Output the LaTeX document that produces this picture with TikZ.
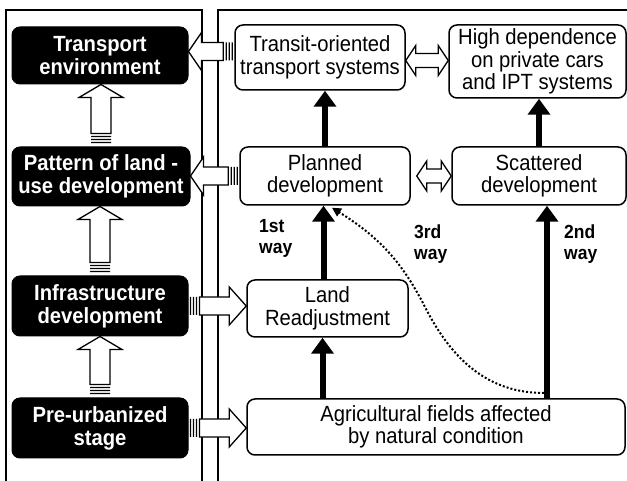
\documentclass[tikz,border=0pt]{standalone}
\usepackage{fontspec}
\setmainfont{Liberation Sans}[FakeStretch=0.92]
\usetikzlibrary{arrows.meta,calc}

% hollow block arrows with a striped tail
\newcommand{\hollowup}[2]{%
  \draw[hollow] let \p1=(#1), \p2=(#2) in
    (\x1-10pt,\y1+13pt) -- (\x1-10pt,\y2-13pt) -- (\x1-22pt,\y2-13pt) -- (\x1,\y2)
    -- (\x1+22pt,\y2-13pt) -- (\x1+10pt,\y2-13pt) -- (\x1+10pt,\y1+13pt) -- cycle
    (\x1-10pt,\y1+10pt) -- (\x1+10pt,\y1+10pt)
    (\x1-10pt,\y1+7pt) -- (\x1+10pt,\y1+7pt)
    (\x1-10pt,\y1+4pt) -- (\x1+10pt,\y1+4pt);}
\newcommand{\hollowleft}[2]{%
  \draw[hollow] let \p1=(#1), \p2=(#2) in
    (\x1-11pt,\y1-9pt) -- (\x2+13pt,\y1-9pt) -- (\x2+13pt,\y1-19pt) -- (\x2,\y1)
    -- (\x2+13pt,\y1+19pt) -- (\x2+13pt,\y1+9pt) -- (\x1-11pt,\y1+9pt) -- cycle
    (\x1-8pt,\y1-9pt) -- (\x1-8pt,\y1+9pt)
    (\x1-5pt,\y1-9pt) -- (\x1-5pt,\y1+9pt)
    (\x1-2pt,\y1-9pt) -- (\x1-2pt,\y1+9pt);}
\newcommand{\hollowright}[2]{%
  \draw[hollow] let \p1=(#1), \p2=(#2) in
    (\x1+11pt,\y1-9pt) -- (\x2-17pt,\y1-9pt) -- (\x2-17pt,\y1-19pt) -- (\x2,\y1)
    -- (\x2-17pt,\y1+19pt) -- (\x2-17pt,\y1+9pt) -- (\x1+11pt,\y1+9pt) -- cycle
    (\x1+8pt,\y1-9pt) -- (\x1+8pt,\y1+9pt)
    (\x1+5pt,\y1-9pt) -- (\x1+5pt,\y1+9pt)
    (\x1+2pt,\y1-9pt) -- (\x1+2pt,\y1+9pt);}
\newcommand{\hollowboth}[2]{%
  \draw[hollow] let \p1=(#1), \p2=(#2) in
    (\x1,\y1) -- (\x1+10pt,\y1+15pt) -- (\x1+10pt,\y1+7pt) -- (\x2-10pt,\y1+7pt)
    -- (\x2-10pt,\y1+15pt) -- (\x2,\y1) -- (\x2-10pt,\y1-15pt) -- (\x2-10pt,\y1-7pt)
    -- (\x1+10pt,\y1-7pt) -- (\x1+10pt,\y1-15pt) -- cycle;}

\begin{document}
\begin{tikzpicture}[x=1pt,y=1pt,
    darkbox/.style={draw,fill=black,text=white,rounded corners=8pt,line width=1pt,
      font=\fontsize{22}{23}\selectfont\bfseries,align=center,inner sep=0pt},
    lightbox/.style={draw,fill=white,rounded corners=8pt,line width=1.5pt,
      font=\fontsize{22}{22.5}\selectfont,align=center,inner sep=0pt},
    waylabel/.style={font=\fontsize{19}{21}\selectfont\bfseries,align=left,anchor=west,inner sep=0pt},
    hollow/.style={fill=white,line width=1.3pt,line join=miter},
    solidarr/.style={line width=6pt,-{Triangle[length=16pt,width=22pt]}}]
  \useasboundingbox (0,0) rectangle (627,481);

  % frames
  \coordinate (f1) at (6,0);
  \coordinate (f2) at (6,471);
  \coordinate (f3) at (202,471);
  \coordinate (f4) at (202,0);
  \coordinate (g1) at (218,0);
  \coordinate (g2) at (218,471);
  \coordinate (g3) at (627,471);
  \draw[line width=1.5pt] (f1) -- (f2) -- (f3) -- (f4);
  \draw[line width=1.5pt] (g1) -- (g2) -- (g3);

  % stages
  \node[darkbox,minimum width=176pt,minimum height=57pt] (trans) at (100,425.5) {Transport\\environment};
  \node[darkbox,minimum width=178pt,minimum height=59pt] (pattern) at (101,304.5) {Pattern of land -\\use development};
  \node[darkbox,minimum width=176pt,minimum height=60pt] (infra) at (100,175) {Infrastructure\\development};
  \node[darkbox,minimum width=176pt,minimum height=60pt] (preurb) at (100,53) {Pre-urbanized\\stage};

  % situations
  \node[lightbox,minimum width=170pt,minimum height=65pt] (transit) at (320,423.5) {Transit-oriented\\transport systems};
  \node[lightbox,minimum width=177pt,minimum height=73pt] (highdep) at (537.5,419.5) {High dependence\\on private cars\\and IPT systems};
  \node[lightbox,minimum width=170pt,minimum height=58pt] (planned) at (325,305) {Planned\\development};
  \node[lightbox,minimum width=174pt,minimum height=58pt] (scattered) at (539,305) {Scattered\\development};
  \node[lightbox,minimum width=161pt,minimum height=57pt] (landre) at (327.5,172.5) {Land\\Readjustment};
  \node[lightbox,minimum width=378pt,minimum height=56pt] (agri) at (436,54) {Agricultural fields affected\\by natural condition};

  \node[waylabel] (w1) at (259,243) {1st\\way};
  \node[waylabel] (w3) at (414,237) {3rd\\way};
  \node[waylabel] (w2) at (564,237) {2nd\\way};

  % ways
  \draw[solidarr] (planned.north) -- (planned.north |- transit.south);
  \draw[solidarr] (scattered.north) -- (scattered.north |- highdep.south);
  \draw[solidarr] ([xshift=-4pt]landre.north) -- ([xshift=-4pt]landre.north |- planned.south);
  \draw[solidarr] ([xshift=-5pt]landre.south |- agri.north) -- ([xshift=-5pt]landre.south);
  \draw[solidarr] ([xshift=8pt]scattered.south |- agri.north) -- ([xshift=8pt]scattered.south);
  \coordinate (dstart) at (544,88);
  \coordinate (dmid) at (425,174);
  \draw[line width=2pt,dash pattern=on 2pt off 2pt,-{Triangle[length=9pt,width=9pt]}]
    (dstart) to[out=180,in=-63] (dmid) to[out=117,in=-32] ([xshift=7pt,yshift=-2pt]planned.south);

  % hollow arrows
  \hollowup{pattern.north}{trans.south}
  \hollowup{infra.north}{pattern.south}
  \hollowup{preurb.north}{infra.south}
  \hollowleft{[yshift=6pt]transit.west}{trans.east}
  \hollowleft{planned.west}{pattern.east}
  \hollowright{infra.east}{landre.west}
  \hollowright{preurb.east}{agri.west}
  \hollowboth{[yshift=-3pt]transit.east}{highdep.west}
  \hollowboth{[xshift=6pt]planned.east}{scattered.west}
\end{tikzpicture}
\end{document}
